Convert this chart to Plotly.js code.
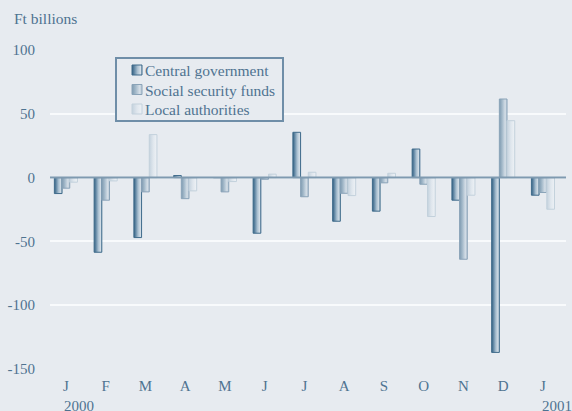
<!DOCTYPE html>
<html>
<head>
<meta charset="utf-8">
<script src="https://cdn.plot.ly/plotly-3.0.1.min.js"></script>
<style>html,body{margin:0;padding:0;background:#e7ebf0;}#chart{width:572px;height:411px;}</style>
</head>
<body>
<div id="chart"></div>
<script>
// Data (Ft billions)
var monthLabels = ['J','F','M','A','M','J','J','A','S','O','N','D','J'];
var monthIndex = [0,1,2,3,4,5,6,7,8,9,10,11,12];
var centralGov = [-12.5, -58.5, -47, 1.6, 0, -43.6, 35.5, -34.2, -26.3, 22.4, -17.7, -137, -13.8];
var socialSecurity = [-8.3, -17.7, -11.2, -16.5, -11.2, -1.3, -15, -12.3, -4.1, -5.2, -64, 61.6, -11.7];
var localAuth = [-3.6, -2.6, 33.7, -10.4, -3.1, 2.7, 4.2, -14.1, 3.4, -30.5, -13.8, 44.6, -24.8];
var seriesNames = ['Central government', 'Social security funds', 'Local authorities'];
var yearLabels = ['2000', '2001'];
var yTickVals = [100, 50, 0, -50, -100, -150];
var yTickText = ['100', '50', '0', '-50', '-100', '-150'];

var FONT = 'Liberation Serif, Times New Roman, serif';
var TXT = '#4f7391';
var BG = '#e7ebf0';

var traces = [
  {type:'bar', x:monthIndex, y:centralGov, name:seriesNames[0],
   marker:{color:'#7f9db5', line:{color:'#3f6b8b', width:1}}},
  {type:'bar', x:monthIndex, y:socialSecurity, name:seriesNames[1],
   marker:{color:'#b3c4d2', line:{color:'#8aa3b8', width:1}}},
  {type:'bar', x:monthIndex, y:localAuth, name:seriesNames[2],
   marker:{color:'#dbe3ea', line:{color:'#c3d1dc', width:1}}}
];

var layout = {
  width:572, height:411,
  paper_bgcolor:BG, plot_bgcolor:BG,
  margin:{l:50, r:6, t:50, b:42, pad:0},
  font:{family:FONT, size:15, color:TXT},
  barmode:'group', bargap:0.42, bargroupgap:0,
  showlegend:true,
  legend:{x:(115-50)/516, y:(369-57)/319, xref:'paper', yref:'paper', xanchor:'left', yanchor:'top',
          bgcolor:BG, bordercolor:'#6f8ea8', borderwidth:1.5,
          font:{family:FONT, size:15.5, color:TXT}, tracegroupgap:0, itemwidth:30},
  xaxis:{range:[-0.4, 12.58], tickvals:monthIndex, ticktext:monthLabels, showgrid:false,
         zeroline:false, showline:false, ticks:'', ticklabelstandoff:6,
         tickfont:{family:FONT, size:15, color:TXT}, fixedrange:true},
  yaxis:{range:[-150, 100], tickvals:yTickVals, ticktext:yTickText, showgrid:true, gridcolor:'#f8fafc', gridwidth:2,
         zeroline:false, showline:false, ticks:'',
         ticklabelstandoff:14, tickfont:{family:FONT, size:15, color:TXT}, fixedrange:true},
  shapes:[
    {type:'line', xref:'paper', yref:'y', x0:0, x1:1, y0:0, y1:0, layer:'above',
     line:{color:'#7f9ab0', width:2}}
  ],
  annotations:[
    {text:'Ft billions', xref:'paper', yref:'paper', x:-38/516, y:1, yshift:32, xanchor:'left', yanchor:'middle',
     showarrow:false, font:{family:FONT, size:15.5, color:TXT}},
    {text:yearLabels[0], xref:'x', yref:'paper', x:0, y:0, xshift:-4, yshift:-37, xanchor:'left', yanchor:'middle',
     showarrow:false, font:{family:FONT, size:15, color:TXT}},
    {text:yearLabels[1], xref:'x', yref:'paper', x:12, y:0, xshift:-3, yshift:-37, xanchor:'left', yanchor:'middle',
     showarrow:false, font:{family:FONT, size:15, color:TXT}}
  ]
};

Plotly.newPlot('chart', traces, layout, {displayModeBar:false, staticPlot:true}).then(function(gd){
  // horizontal gradient fills imitating the shaded bars
  var grads = [
    [[0,'#34607f'],[0.2,'#5b82a0'],[0.55,'#a9bfd0'],[0.85,'#d3dee7'],[1,'#9bb2c5']],
    [[0,'#7e9ab0'],[0.35,'#a2b8c9'],[0.75,'#d3dde6'],[1,'#b9c9d6']],
    [[0,'#c4d2de'],[0.5,'#dfe6ed'],[1,'#eef2f6']]
  ];
  var svg = gd.querySelector('svg.main-svg');
  var ns = 'http://www.w3.org/2000/svg';
  var defs = svg.querySelector('defs') || svg.insertBefore(document.createElementNS(ns,'defs'), svg.firstChild);
  grads.forEach(function(st, i){
    var lg = document.createElementNS(ns, 'linearGradient');
    lg.setAttribute('id', 'bargrad' + i);
    lg.setAttribute('x1','0'); lg.setAttribute('y1','0'); lg.setAttribute('x2','1'); lg.setAttribute('y2','0');
    st.forEach(function(s){
      var stop = document.createElementNS(ns, 'stop');
      stop.setAttribute('offset', s[0]);
      stop.setAttribute('stop-color', s[1]);
      lg.appendChild(stop);
    });
    defs.appendChild(lg);
  });
  gd.querySelectorAll('.barlayer .trace.bars').forEach(function(t, i){
    t.querySelectorAll('path').forEach(function(p){ p.style.fill = 'url(#bargrad' + i + ')'; });
  });
  // compact legend layout like the reference
  var itemY = [13, 32.5, 52];
  gd.querySelectorAll('.legend .traces').forEach(function(t, i){
    t.setAttribute('transform', 'translate(0,' + itemY[i] + ')');
    var txt = t.querySelector('text.legendtext');
    if (txt) txt.setAttribute('x', 30);
    t.querySelectorAll('.legendpoints path').forEach(function(p){
      p.setAttribute('d', 'M5,5H-5V-5H5Z');
      p.setAttribute('transform', 'translate(22,0)');
      p.style.fill = 'url(#bargrad' + i + ')';
      p.style.strokeWidth = '1px';
    });
  });
  var bg = gd.querySelector('.legend rect.bg');
  if (bg) { bg.setAttribute('width', 167); bg.setAttribute('height', 63); }
});
</script>
</body>
</html>
